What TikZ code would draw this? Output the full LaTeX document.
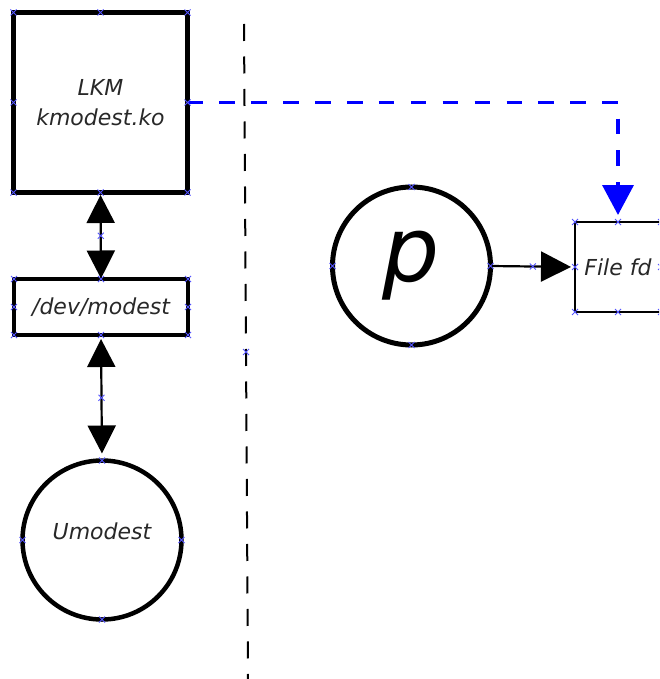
\documentclass[tikz,border=0pt]{standalone}
\usepackage{fontspec}
\setmainfont{DejaVu Sans}
\usetikzlibrary{arrows.meta}
\definecolor{mkblue}{RGB}{85,85,255}
\definecolor{txtgray}{RGB}{40,40,40}
\begin{document}
\begin{tikzpicture}[x=1pt,y=-1pt,
  box/.style={draw, rectangle, inner sep=0pt, outer sep=0pt,
    font=\fontsize{22}{30}\selectfont\itshape, text=txtgray, align=center},
  circ/.style={draw, circle, inner sep=0pt, outer sep=0pt,
    font=\fontsize{22}{30}\selectfont\itshape, text=txtgray},
  tri/.tip={Triangle[length=28pt,width=28pt]},
  bigtri/.tip={Triangle[length=30pt,width=30pt]},
  dbl/.style={line width=2.2pt, tri-tri},
  one/.style={line width=2.2pt, -bigtri},
  blueconn/.style={draw=blue, line width=3.6pt, dash pattern=on 15.5pt off 16.4pt,
    -{Triangle[length=30pt,width=31pt,fill=blue]}},
  divider/.style={line width=2pt, dash pattern=on 17pt off 15.5pt},
  xmk/.pic={\draw[mkblue, line width=0.9pt] (-3,-3)--(3,3) (-3,3)--(3,-3);}
]
\useasboundingbox (0,0) rectangle (659,679);
\clip (0,0) rectangle (659,679);

% divider
\coordinate (dtop) at (244,24);
\coordinate (dmid) at (246,352);
\coordinate (dbot) at (248,680);
\draw[divider] (dtop) -- (dbot);

% nodes
\node[box, line width=5pt, minimum width=174pt, minimum height=180pt] (lkm) at (100.5,102.5) {LKM\\kmodest.ko};
\node[box, line width=4pt, minimum width=174pt, minimum height=56pt] (dev) at (101,307) {/dev/modest};
\node[circ, line width=4.5pt, minimum size=159pt, text height=16pt, text depth=18pt] (umod) at (102,540) {Umodest};
\node[circ, line width=5pt, minimum size=158pt, text=black,
  font=\fontsize{90}{90}\selectfont\itshape] (pc) at (411.5,266) {p};
\node[box, line width=2pt, minimum width=86pt, minimum height=90pt] (file) at (618,267) {File fd};

% connectors
\draw[dbl, shorten <=2.5pt, shorten >=0.5pt] (lkm.south) -- coordinate (m1) (dev.north);
\draw[dbl, shorten <=4pt, shorten >=7pt] (dev.south) -- coordinate (m2) (umod.north);
\draw[one, shorten >=4pt] (pc.east) -- coordinate (m3) (file.west);
\draw[blueconn, shorten >=7pt] (lkm.east) -| (file.north);

% connection point markers
\foreach \n in {lkm, dev, file}
  \foreach \a in {north west, north, north east, west, east, south west, south, south east}
    \pic at (\n.\a) {xmk};
\foreach \n in {umod, pc}
  \foreach \a in {north, west, east, south}
    \pic at (\n.\a) {xmk};
\foreach \c in {m1, m2, m3, dmid}
  \pic at (\c) {xmk};
\end{tikzpicture}
\end{document}
